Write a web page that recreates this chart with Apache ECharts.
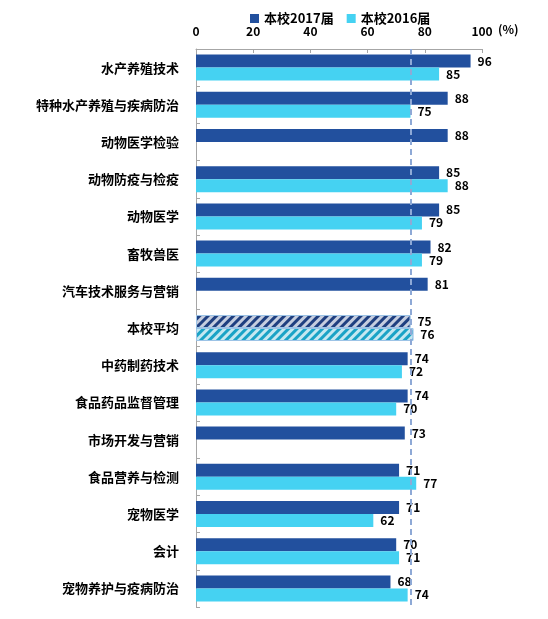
<!DOCTYPE html>
<html><head><meta charset="utf-8">
<script src="https://cdn.jsdelivr.net/npm/echarts@6/dist/echarts.min.js"></script>
<style>html,body{margin:0;padding:0;background:#fff}#c{width:548px;height:619px}</style>
</head><body><div id="c"></div>
<script>
const categories = ['水产养殖技术','特种水产养殖与疾病防治','动物医学检验','动物防疫与检疫','动物医学','畜牧兽医','汽车技术服务与营销','本校平均','中药制药技术','食品药品监督管理','市场开发与营销','食品营养与检测','宠物医学','会计','宠物养护与疫病防治'];
const values2017 = [96,88,88,85,85,82,81,75,74,74,73,71,71,70,68];
const values2016 = [85,75,null,88,79,79,null,76,72,70,null,77,62,71,74];
const xTicks = [0,20,40,60,80,100];
const avgName = '本校平均';
const refLine = 75;

const font = '"Noto Sans CJK SC", sans-serif';
const c2017 = '#22509E', c2016 = '#45D2F2';

function mk(vals, color, avgColor){
  return vals.map((v,i)=>{
    if (categories[i] === avgName && v != null) {
      return {value:v, itemStyle:{color:avgColor, borderColor:'#9CC3E6', borderWidth:1,
        decal:{symbol:'rect', dashArrayX:[1,0], dashArrayY:[3,3], rotation:-Math.PI/4, color:'rgba(255,255,255,0.75)', backgroundColor:avgColor, symbolSize:1}}};
    }
    return v;
  });
}
const lbl = {show:true, position:'right', distance:7, color:'#000', fontWeight:'bold', fontSize:12, fontFamily:font};

const chart = echarts.init(document.getElementById('c'));
chart.setOption({
  animation:false,
  legend:{top:7, left:245, itemWidth:9, itemHeight:9, itemGap:13, icon:'rect',
    textStyle:{fontFamily:font, fontWeight:'bold', fontSize:13, color:'#000'},
    data:['本校2017届','本校2016届']},
  grid:{left:196, right:66, top:49, height:558},
  graphic:[{type:'text', left:498, top:23, style:{text:'(%)', font:'bold 12px "Noto Sans CJK SC", sans-serif', fill:'#000'}}],
  xAxis:{type:'value', position:'top', min:xTicks[0], max:xTicks[xTicks.length-1], interval:20,
    axisLine:{show:true, lineStyle:{color:'#A6A6A6'}},
    axisTick:{show:true, inside:true, length:4, lineStyle:{color:'#A6A6A6'}},
    axisLabel:{fontFamily:font, fontWeight:'bold', fontSize:12, color:'#000', margin:12},
    splitLine:{show:false}},
  yAxis:{type:'category', inverse:true, data:categories,
    axisLine:{show:true, lineStyle:{color:'#A6A6A6'}},
    axisTick:{show:true, inside:true, length:4, lineStyle:{color:'#A6A6A6'}},
    axisLabel:{fontFamily:font, fontWeight:'bold', fontSize:13, color:'#000', margin:17}},
  series:[
    {name:'本校2017届', type:'bar', data:mk(values2017, c2017, '#1F3F80'), itemStyle:{color:c2017},
     barWidth:13, barGap:'0%', label:lbl,
     markLine:{silent:true, symbol:'none', label:{show:false}, lineStyle:{type:[6,4], color:'#8EA9D6', width:2},
       data:[{xAxis:refLine}]}},
    {name:'本校2016届', type:'bar', data:mk(values2016, c2016, '#1AA3C6'), itemStyle:{color:c2016},
     barWidth:13, barGap:'0%', label:lbl}
  ]
});
</script></body></html>
